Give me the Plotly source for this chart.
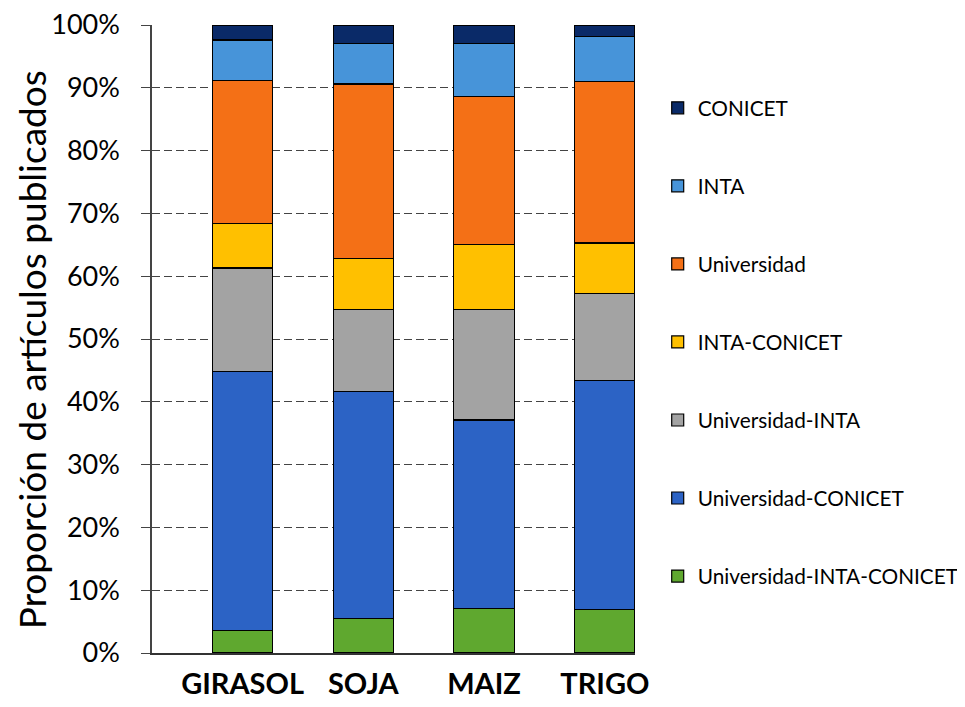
import plotly.graph_objects as go

categories = ["GIRASOL", "SOJA", "MAIZ", "TRIGO"]
series_names = ["Universidad-INTA-CONICET", "Universidad-CONICET", "Universidad-INTA",
                "INTA-CONICET", "Universidad", "INTA", "CONICET"]
uic = [3.6, 5.5, 7.1, 6.9]
uc = [41.2, 36.2, 30.0, 36.5]
ui = [16.5, 13.0, 17.6, 13.8]
ic = [7.1, 8.1, 10.3, 8.1]
univ = [22.7, 27.8, 23.6, 25.7]
inta = [6.5, 6.4, 8.4, 7.2]
conicet = [2.4, 3.0, 3.0, 1.8]
values = [uic, uc, ui, ic, univ, inta, conicet]
colors = ["#5FA82F", "#2C63C5", "#A3A3A3", "#FFC000", "#F47016", "#4794D9", "#0A2A68"]
yticks = [0, 10, 20, 30, 40, 50, 60, 70, 80, 90, 100]
y_title = "Proporción de artículos publicados"

FONT = "Lato"
fig = go.Figure()
n = len(series_names)
for i, (name, vals, col) in enumerate(zip(series_names, values, colors)):
    fig.add_trace(go.Bar(
        x=list(range(len(categories))), y=vals, name=name, width=0.5,
        marker=dict(color=col, line=dict(color="black", width=1.2)),
        legendgroup=name, legendrank=n - i,
    ))

fig.add_annotation(
    text=y_title, textangle=-90, xref="paper", yref="paper",
    x=-0.248, y=0.4825, xanchor="center", yanchor="middle", showarrow=False,
    font=dict(size=37, family=FONT, color="black"),
)

fig.update_layout(
    barmode="stack",
    width=957, height=699,
    margin=dict(l=144, r=330, t=17, b=54, autoexpand=False),
    plot_bgcolor="white", paper_bgcolor="white",
    font=dict(family=FONT, color="black"),
    legend=dict(
        x=1.047, xanchor="left", y=0.9, yanchor="top",
        traceorder="grouped", tracegroupgap=48,
        font=dict(size=20.8, family=FONT, color="black"),
        itemwidth=30,
    ),
    xaxis=dict(
        range=[-0.75, 3.25], tickmode="array",
        tickvals=list(range(len(categories))), ticktext=categories,
        tickfont=dict(size=29, family=FONT, color="black", weight="bold"),
        showgrid=False, zeroline=False, automargin=False,
        showline=True, linecolor="#333", linewidth=1.5, ticks="", ticklabelstandoff=4,
    ),
    yaxis=dict(
        range=[0, 100], tickmode="array", tickvals=yticks,
        ticktext=[f"{v}%" for v in yticks],
        tickfont=dict(size=27, family=FONT, color="black"),
        showgrid=True, gridcolor="#444", griddash="8px,4px", gridwidth=1,
        zeroline=False, showline=True, linecolor="#444", linewidth=1.5, automargin=False,
        ticks="outside", ticklen=9, tickcolor="#444", ticklabelstandoff=16,
        ticklabeloverflow="allow",
    ),
)
fig.write_html("out.html")
